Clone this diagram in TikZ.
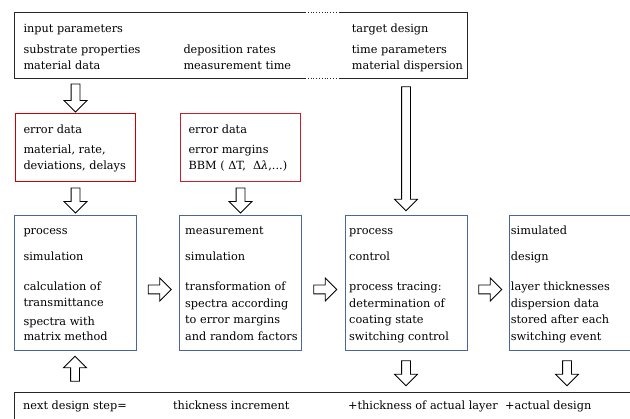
\documentclass[tikz,border=0pt]{standalone}
\usepackage{fontspec}
\setmainfont{DejaVu Serif}
\usetikzlibrary{positioning,shapes.arrows,calc}
\definecolor{errred}{RGB}{200,30,45}
\definecolor{simblue}{RGB}{74,104,150}
\definecolor{frame}{RGB}{38,38,38}

\begin{document}
\begin{tikzpicture}[x=1pt,y=-1pt,
		box/.style={rectangle,line width=0.8pt,anchor=north west,inner sep=0pt,outer sep=0pt},
		infobox/.style={box,draw=frame},
		errbox/.style={box,draw=errred,line width=1pt,minimum width=120pt,minimum height=68pt},
		simbox/.style={box,draw=simblue,minimum width=122pt,minimum height=135pt},
		txt/.style={anchor=base west,align=left,inner sep=0pt,font=\fontsize{11.3}{16.7}\selectfont},
		fat/.style={single arrow,draw=black,line width=0.8pt,fill=white,inner sep=0pt,inner ysep=4pt,
			single arrow head extend=7pt,minimum height=#1,sloped,allow upside down}]
	\useasboundingbox (0,0) rectangle (630,419);
	\clip (0,0) rectangle (630,419);
	% Boxes
	\node[box,minimum width=453pt,minimum height=66pt] (inp) at (14,12) {};
	\node[errbox,draw=red!80!black] (err1) at (15.5,113.5) {};
	\node[errbox] (err2) at (180.5,113.5) {};
	\node[simbox] (sim1) at (14,215) {};
	\node[simbox] (sim2) at (179,215) {};
	\node[simbox] (sim3) at (345,215) {};
	\node[simbox] (sim4) at (509,215) {};
	\node[infobox,minimum width=640pt,minimum height=60pt] (next) at (14,392) {};
	% Input box outline with open gap
	\coordinate (gapL) at (305,0);
	\coordinate (gapR) at (339,0);
	\draw[line width=0.8pt,frame] (gapL |- inp.north) -- (inp.north west) -- (inp.south west) -- (gapL |- inp.south);
	\draw[line width=0.8pt,frame] (gapR |- inp.north) -- (inp.north east) -- (inp.south east) -- (gapR |- inp.south);
	\draw[line width=0.8pt,frame,dotted] (gapL |- inp.north) -- (gapR |- inp.north);
	\draw[line width=0.8pt,frame,dotted] (gapL |- inp.south) -- (gapR |- inp.south);
	% Texts
	\node[txt] (inptxt) at ($(inp.north west)+(9.3,58)$) {input parameters\\[4.3pt]substrate properties\\material data};
	\node[txt] (ratetxt) at ($(inp.north west)+(169.3,58)$) {deposition rates\\measurement time};
	\node[txt] (designtxt) at ($(inp.north west)+(337.7,58)$) {target design\\[4.3pt]time parameters\\material dispersion};
	\node[txt] at ($(err1.north west)+(7.8,56.5)$) {error data\\[3.3pt]material, rate,\\deviations, delays};
	\node[txt] at ($(err2.north west)+(7.8,56.5)$) {error data\\[3.3pt]error margins\\BBM (~ΔT,~~Δ{\itshape λ},...)};
	\node[txt] at ($(sim1.north west)+(9.3,125.7)$) {process\\[8.8pt]simulation\\[13.5pt]calculation of\\transmittance\\[2.3pt]spectra with\\[-2pt]matrix method};
	\node[txt] at ($(sim2.north west)+(6,125.7)$) {measurement\\[8.8pt]simulation\\[13.5pt]transformation of\\spectra according\\to error margins\\and random factors};
	\node[txt] at ($(sim3.north west)+(4,125.7)$) {process\\[8.8pt]control\\[13.5pt]process tracing:\\determination of\\coating state\\switching control};
	\node[txt] at ($(sim4.north west)+(1.7,125.7)$) {simulated\\[8.8pt]design\\[13.5pt]layer thicknesses\\dispersion data\\stored after each\\switching event};
	\node[txt] at ($(next.north west)+(9,18)$) {next design step=};
	\node[txt] at ($(next.north west)+(159,18)$) {thickness increment};
	\node[txt] at ($(next.north west)+(334,18)$) {+thickness of actual layer};
	\node[txt] at ($(next.north west)+(491,18)$) {+actual design};
	% Arrows
	\path (err1.north |- inp.south) -- node[fat=28pt] {} (err1.north);
	\path (err1.south) -- node[fat=25pt] {} (sim1.north -| err1.south);
	\path (err2.south) -- node[fat=25pt] {} (sim2.north -| err2.south);
	\path (sim3.north |- inp.south) -- node[fat=124pt] {} (sim3.north);
	\path ($(sim1.east)+(0,7)$) -- node[fat=23pt] {} ($(sim2.west)+(0,7)$);
	\path ($(sim2.east)+(0,7)$) -- node[fat=23pt] {} ($(sim3.west)+(0,7)$);
	\path ($(sim3.east)+(0,7)$) -- node[fat=23pt] {} ($(sim4.west)+(0,7)$);
	\path (next.north -| sim1.south) -- node[fat=25pt] {} (sim1.south);
	\path (sim3.south) -- node[fat=25pt] {} (next.north -| sim3.south);
	\path ($(sim4.south)+(-3,0)$) -- node[fat=25pt] {} ($(next.north -| sim4.south)+(-3,0)$);
\end{tikzpicture}
\end{document}
